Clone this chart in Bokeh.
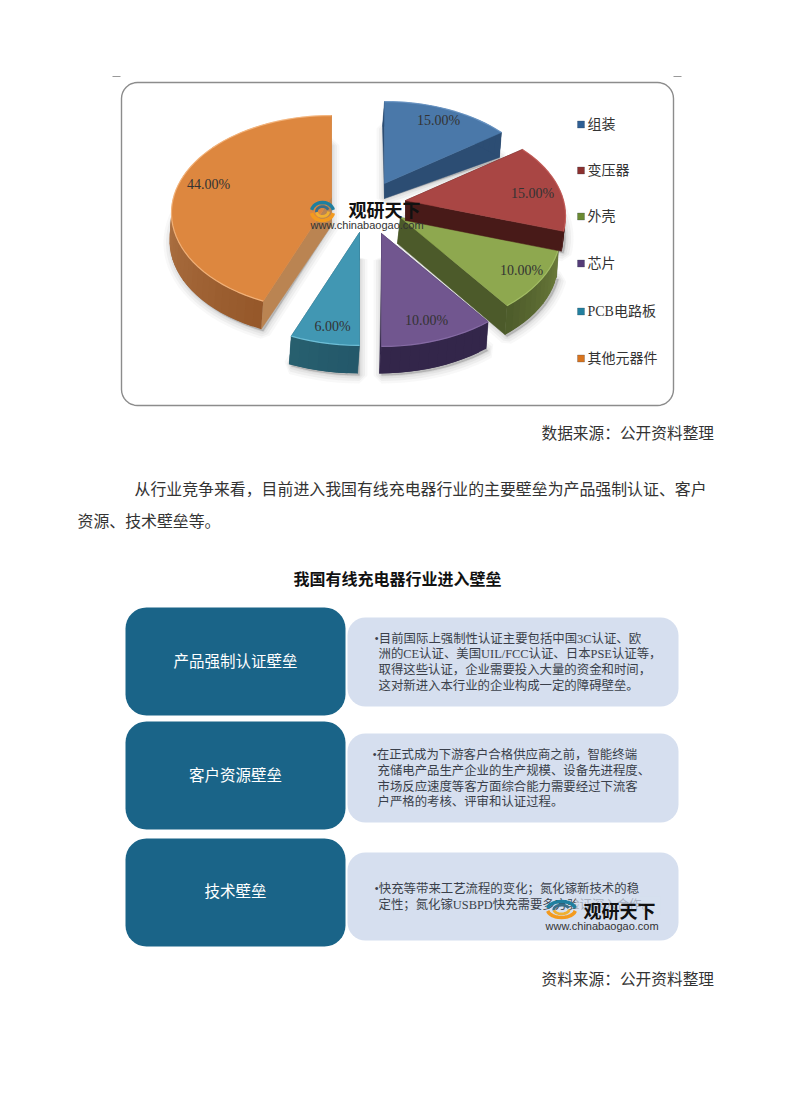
import math
from bokeh.plotting import figure
from bokeh.models import Range1d
from bokeh.core.properties import value
from bokeh.embed import file_html
from bokeh.resources import INLINE

# ---- data ----
categories = ["组装", "变压器", "外壳", "芯片", "PCB电路板", "其他元器件"]
shares = [15, 15, 10, 10, 6, 44]
share_labels = ["15.00%", "15.00%", "10.00%", "10.00%", "6.00%", "44.00%"]

paragraph = ["从行业竞争来看，目前进入我国有线充电器行业的主要壁垒为产品强制认证、客户", "资源、技术壁垒等。"]
source_1 = "数据来源：公开资料整理"
source_2 = "资料来源：公开资料整理"
title_2 = "我国有线充电器行业进入壁垒"
barrier_names = ["产品强制认证壁垒", "客户资源壁垒", "技术壁垒"]
barrier_text = [
    ["•目前国际上强制性认证主要包括中国3C认证、欧", "洲的CE认证、美国UIL/FCC认证、日本PSE认证等，",
     "取得这些认证，企业需要投入大量的资金和时间，", "这对新进入本行业的企业构成一定的障碍壁垒。"],
    ["•在正式成为下游客户合格供应商之前，智能终端", "充储电产品生产企业的生产规模、设备先进程度、",
     "市场反应速度等客方面综合能力需要经过下流客", "户严格的考核、评审和认证过程。"],
    ["•快充等带来工艺流程的变化；氮化镓新技术的稳", "定性；氮化镓USBPD快充需要多方验证深入合作。"],
]

# ---- styling / layout ----
top_col = ["#4a78a9", "#a94644", "#8ea84f", "#71568f", "#4197b3", "#dd873f"]
edge_col = ["#2c4d73", "#481a18", "#4c5a2a", "#33264a", "#24586a", "#ba8452"]
arc_a = ["#2c4d73", "#481a18", "#6a7a3a", "#33264a", "#24586a", "#96582a"]
arc_b = ["#2c4d73", "#481a18", "#4c5a2a", "#33264a", "#27606f", "#cf9a6c"]
rim = ["#6f9ac8", "#c9605c", "#a9c46a", "#8d72ad", "#79cbe2", "#f7bc86"]
legend_col = ["#2f5f94", "#8c302e", "#6b8a32", "#553c78", "#23809f", "#d9741e"]
apex = [(384, 183), (405, 200), (400, 217), (381, 233), (359, 232), (331, 197)]
outer_depth = [25, 20, 29, 27, 28, 28]
apex_depth = [15, 20, 26, 27, 27, 28]
label_pos = [(438, 120), (532, 193), (521, 270), (426, 320), (332, 326), (208, 184)]
legend_y = [124, 170, 216, 263, 311, 358]
RX, RY, K = 158, 95, 0.159

SERIF = value("Liberation Serif, Noto Sans CJK SC")
CJK = value("Noto Sans CJK SC")

p = figure(width=776, height=1100, x_range=Range1d(0, 776), y_range=Range1d(1100, 0),
           toolbar_location=None, output_backend="svg", min_border=0)
p.axis.visible = False
p.grid.visible = False
p.outline_line_color = None
p.background_fill_color = "white"


def rounded(x0, y0, x1, y1, r):
    xs, ys = [], []
    for cx, cy, a0 in [(x1 - r, y0 + r, -90), (x1 - r, y1 - r, 0), (x0 + r, y1 - r, 90), (x0 + r, y0 + r, 180)]:
        for i in range(9):
            a = math.radians(a0 + i * 90 / 8)
            xs.append(cx + r * math.cos(a))
            ys.append(cy + r * math.sin(a))
    return xs, ys


def rim_pt(theta, cx, cy):
    t = math.radians(theta)
    u, v = math.sin(t), math.cos(t)
    w = 1 + K * v
    return cx + RX * u / w, cy - RY * v / w


def lerp(c0, c1, f):
    a = [int(c0[i:i + 2], 16) for i in (1, 3, 5)]
    b = [int(c1[i:i + 2], 16) for i in (1, 3, 5)]
    return "#%02x%02x%02x" % tuple(round(a[i] + (b[i] - a[i]) * f) for i in range(3))


# chart frame
xs, ys = rounded(121, 82, 673, 405, 16)
p.patch(xs, ys, fill_color="white", line_color="#8c8c8c", line_width=1.4)
p.segment([112, 673], [76, 76], [120, 681], [76, 76], line_color="#999999", line_width=1)

# slice angles from the shares
total = sum(shares)
bounds = [0]
for s in shares:
    bounds.append(bounds[-1] + 360 * s / total)

outlines = []
for i in range(len(shares)):
    t0, t1 = bounds[i], bounds[i + 1]
    n = max(6, int((t1 - t0) / 3))
    thetas = [t0 + (t1 - t0) * j / n for j in range(n + 1)]
    cx, cy = apex[i]
    pts = [rim_pt(t, cx, cy) for t in thetas]
    outlines.append((thetas, pts))

# soft shadows first
for i in range(len(shares)):
    thetas, pts = outlines[i]
    cx, cy = apex[i]
    d = outer_depth[i]
    xs = [cx] + [q[0] for q in pts]
    ys = [cy + apex_depth[i]] + [q[1] + d + 2 for q in pts]
    for lw, al in [(16, 0.05), (11, 0.07), (6, 0.09), (2, 0.12)]:
        p.patch(xs, ys, fill_color="#777777", fill_alpha=0.10, line_color="#777777",
                line_alpha=al, line_width=lw)

# slices, back to front
for i in [5, 0, 2, 1, 4, 3]:
    thetas, pts = outlines[i]
    cx, cy = apex[i]
    d, da = outer_depth[i], apex_depth[i]
    # radial walls
    for q in (pts[0], pts[-1]):
        p.patch([cx, q[0], q[0] - 2, cx - (3 if i == 2 else 0)], [cy, q[1], q[1] + d, cy + da],
                fill_color=edge_col[i], line_color=edge_col[i], line_width=0.5)
    # outer wall in overlapping strips
    for j in range(len(pts) - 1):
        a, b = pts[j], pts[min(j + 2, len(pts) - 1)]
        c = lerp(arc_a[i], arc_b[i], j / (len(pts) - 1))
        p.patch([a[0], b[0], b[0] - 2, a[0] - 2], [a[1], b[1], b[1] + d, a[1] + d],
                fill_color=c, line_color=None)
    # top face
    p.patch([cx] + [q[0] for q in pts], [cy] + [q[1] for q in pts], fill_color=top_col[i],
            line_color=top_col[i], line_width=0.5)
    p.line([q[0] for q in pts], [q[1] for q in pts], line_color=rim[i], line_width=1.2, line_alpha=0.8)

# data labels
p.text([q[0] for q in label_pos], [q[1] for q in label_pos], text=share_labels, text_font=SERIF,
       text_font_size="14px", text_color="#333333", text_align="center", text_baseline="middle")

# legend
p.scatter([580.5] * 6, legend_y, size=7, marker="square", fill_color=legend_col, line_color="#2a3a4a",
          line_width=0.5, line_alpha=0.5)
p.text([587] * 6, legend_y, text=categories, text_font=SERIF, text_font_size="14px",
       text_color="#333333", text_baseline="middle")


def logo(x, y, rx, ry, tx, ty, ux, uy):
    def arc(cx, cy, ax, ay, a0, a1):
        r = range(0, 13)
        return ([cx + ax * math.cos(math.radians(a0 + (a1 - a0) * k / 12)) for k in r],
                [cy + ay * math.sin(math.radians(a0 + (a1 - a0) * k / 12)) for k in r])
    for (fx, fy, a0, a1, c, w) in [(1.0, 1.0, 190, 350, "#1f7f9f", 3.4), (0.55, 0.55, 170, 340, "#3a6f8a", 2.8),
                                   (1.0, 1.0, 10, 170, "#f39a1e", 3.6), (0.55, 0.55, 0, 170, "#f0b030", 2.8)]:
        ax, ay = arc(x, y, rx * fx, ry * fy, a0, a1)
        p.line(ax, ay, line_color=c, line_width=w)
    p.text([tx], [ty], text=["观研天下"], text_font=CJK, text_font_style="bold", text_font_size="18px",
           text_color="#111111", text_baseline="middle")
    p.text([ux], [uy], text=["www.chinabaogao.com"], text_font=value("Liberation Sans"), text_font_size="11px",
           text_color="#333333", text_baseline="middle")


logo(322, 211, 11, 9, 348, 208, 310, 224)

# body text
p.text([541, 541], [432, 978], text=[source_1, source_2], text_font=CJK, text_font_size="15.7px",
       text_color="#333333", text_baseline="middle")
p.text([134, 77], [488, 520], text=paragraph, text_font=CJK, text_font_size="15.9px",
       text_color="#333333", text_baseline="middle")
p.text([293], [577], text=[title_2], text_font=CJK, text_font_style="bold", text_font_size="16px",
       text_color="#111111", text_baseline="middle")

# barrier panels
dark = [(125, 607, 345, 715), (125, 721, 345, 829), (125, 838, 345, 946)]
pale = [(347, 617, 678, 706), (347, 733, 678, 822), (347, 852, 678, 940)]
name_y = [661, 775, 891]
line_y = [[638, 653, 669, 685], [754, 770, 786, 801], [888, 904]]
line_x = [[374, 378, 378, 378], [372, 377, 377, 377], [374, 378]]
for i in range(3):
    xs, ys = rounded(*pale[i], 18)
    p.patch(xs, ys, fill_color="#d6dfef", line_color=None)
    xs, ys = rounded(*dark[i], 21)
    p.patch(xs, ys, fill_color="#1a6488", line_color=None)
    p.text([235], [name_y[i]], text=[barrier_names[i]], text_font=SERIF, text_font_size="15.5px",
           text_color="white", text_align="center", text_baseline="middle")
    p.text(line_x[i], line_y[i], text=barrier_text[i], text_font=SERIF, text_font_size="12.4px",
           text_color="#3a3f4a", text_baseline="middle")

# second watermark veils the text below it
p.patch([575, 660, 660, 575], [896, 896, 914, 914], fill_color="#d6dfef", fill_alpha=0.7, line_color=None)
logo(561, 909, 14, 8, 583, 909, 545, 925)

open("out.html", "w").write(file_html(p, INLINE))
